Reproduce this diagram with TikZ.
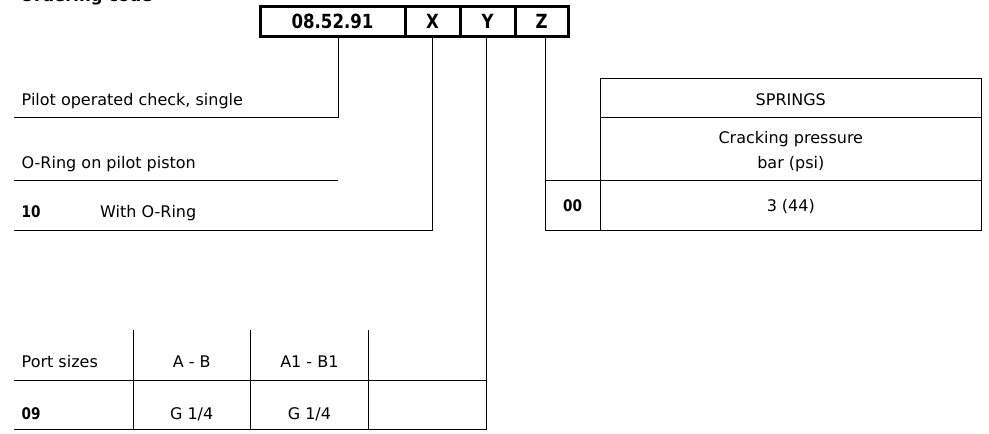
\documentclass[tikz,border=0pt]{standalone}
\usepackage{fontspec}
\setmainfont{DejaVu Sans}
\newfontfamily\codefont[FakeStretch=0.85]{DejaVu Sans}

\tikzset{
	codecell/.style={draw, line width=3pt, minimum height=29.7pt, inner sep=0pt,
		font=\codefont\bfseries\fontsize{19.5}{20}\selectfont, text height=14pt, text depth=0pt},
	lbl/.style={inner sep=0pt, font=\fontsize{16}{19}\selectfont},
	num/.style={inner sep=0pt, font=\codefont\bfseries\fontsize{16}{19}\selectfont},
	rule/.style={line width=0.9pt}
}

\begin{document}
\begin{tikzpicture}[x=1pt, y=-1pt]

\clip (0,0) rectangle (989,434);

%heading, cut at the top
\node[anchor=base west, inner sep=0pt, font=\bfseries\fontsize{16.5}{19}\selectfont] (heading) at (20,1.5) {Ordering code};

%code
\node[codecell, minimum width=145pt] (codebase) at (332.5,21.15) {08.52.91};
\node[codecell, minimum width=55pt] (codex) at (432.5,21.15) {X};
\node[codecell, minimum width=55pt] (codey) at (487.5,21.15) {Y};
\node[codecell, minimum width=53.5pt] (codez) at (541.75,21.15) {Z};

%pilot operated check
\coordinate (pilotend) at (14,117.3);
\node[lbl, anchor=base west] (pilot) at (21.5,105) {Pilot operated check, single};
\draw[rule] ([xshift=5.8pt]codebase.south) |- (pilotend);

%o-ring
\coordinate (oringend) at (14,230);
\node[lbl, anchor=base west] (oring) at (21.5,168.3) {O-Ring on pilot piston};
\draw[rule] (14,180) -- (338.3,180);
\node[num, anchor=base west] (oringten) at (21.5,217.3) {10};
\node[lbl, anchor=base west] (oringwith) at (100,217.3) {With O-Ring};
\draw[rule] (codex.south) |- (oringend);

%port sizes
\coordinate (portend) at (14,429.8);
\draw[rule] ([xshift=-0.8pt]codey.south) |- (portend);
\draw[rule] (14,380.7) -- (486.7,380.7);
\foreach \x in {133, 250.5, 368.3}
	\draw[rule] (\x,330) -- (\x,429.8);
\node[lbl, anchor=base west] (port) at (21.5,367.7) {Port sizes};
\node[lbl, anchor=base] (portab) at (191.7,367.7) {A - B};
\node[lbl, anchor=base] (porta1b1) at (309.4,367.7) {A1 - B1};
\node[num, anchor=base west] (portnine) at (21.5,419.5) {09};
\node[lbl, anchor=base] (portgab) at (191.7,419.5) {G 1/4};
\node[lbl, anchor=base] (portga1b1) at (309.4,419.5) {G 1/4};

%springs
\coordinate (springend) at (981.7,230);
\draw[rule] ([xshift=3.2pt]codez.south) |- (springend);
\draw[rule] (springend) -- (981.7,78) -- (600,78) -- (600,230);
\draw[rule] (600,117) -- (981.7,117);
\draw[rule] (545,180) -- (981.7,180);
\node[lbl, anchor=base] (springs) at (790.8,105) {SPRINGS};
\node[lbl, anchor=base] (crackhead) at (790.8,143.3) {Cracking pressure};
\node[lbl, anchor=base] (crackunit) at (790.8,168.3) {bar (psi)};
\node[num, anchor=base] (springzero) at (572.5,211.7) {00};
\node[lbl, anchor=base] (springval) at (790.8,211.7) {3 (44)};

\end{tikzpicture}
\end{document}
